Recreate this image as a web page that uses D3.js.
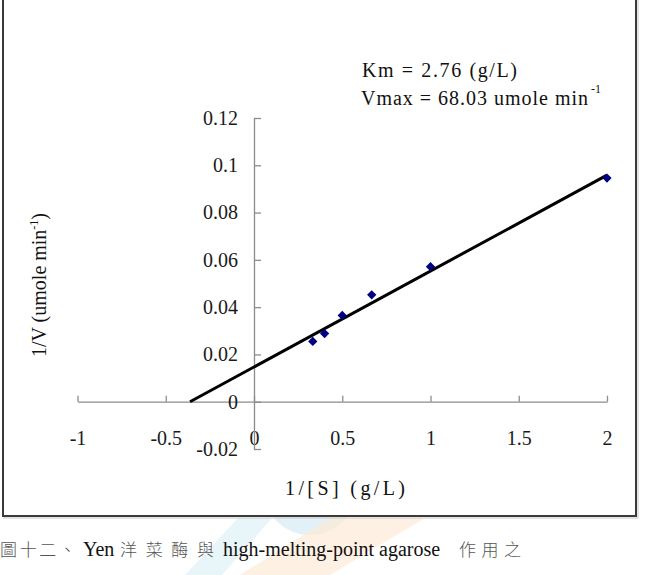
<!DOCTYPE html>
<html>
<head>
<meta charset="utf-8">
<script src="https://cdn.jsdelivr.net/npm/d3@7"></script>
<style>
  body { margin: 0; background: #fff; }
  svg { display: block; }
</style>
</head>
<body>
<div id="chart"></div>
<script>
"use strict";

// measured points (1/[S], 1/V)
var invS = [0.333, 0.4, 0.5, 0.667, 1, 2];
var invV = [0.0255, 0.0288, 0.0365, 0.0452, 0.0571, 0.0946];

// Lineweaver-Burk fit
var Km = 2.76;
var Vmax = 68.03;
var fitX = [-1 / Km, 2];

var xTicks = [-1, -0.5, 0, 0.5, 1, 1.5, 2];
var yTicks = [-0.02, 0, 0.02, 0.04, 0.06, 0.08, 0.1, 0.12];

var width = 645, height = 575;

var svg = d3.select("#chart")
	.append("svg")
	.attr("width", width)
	.attr("height", height);

// faint watermark behind the caption
var wm = svg.append("g").attr("class", "watermark");
wm.append("circle")
	.attr("cx", 310).attr("cy", 488).attr("r", 47)
	.style("fill", "#d9eef5").style("opacity", 0.8);
wm.append("path")
	.attr("d", "M 240 575 L 330 518 L 425 518 L 330 575 Z")
	.style("fill", "#fde9d6").style("opacity", 0.7);
wm.append("path")
	.attr("d", "M 185 575 L 238 518 L 272 518 L 222 575 Z")
	.style("fill", "#e2f2f8").style("opacity", 0.8);

// frame
svg.append("rect")
	.attr("x", 4).attr("y", -5)
	.attr("width", 634).attr("height", 523)
	.style("fill", "none")
	.style("stroke", "#c8c8c8")
	.style("stroke-width", 1);
svg.append("rect")
	.attr("x", 3).attr("y", -5)
	.attr("width", 633).attr("height", 521)
	.style("fill", "#fff")
	.style("stroke", "#3a3a3a")
	.style("stroke-width", 2);

var x = d3.scaleLinear().domain([-1, 2]).range([77.5, 607]);
var y = d3.scaleLinear().domain([-0.02, 0.12]).range([449, 118]);

var axisColor = "#8c8c8c";
var serif = "'Liberation Serif', 'Times New Roman', serif";
var plain = function (d) { return String(d); };

// x axis crosses at y = 0, ticks pointing up
var gx = svg.append("g")
	.attr("transform", "translate(0," + y(0) + ")")
	.call(d3.axisBottom(x)
		.tickValues(xTicks)
		.tickSizeInner(-6)
		.tickSizeOuter(0)
		.tickPadding(29)
		.tickFormat(plain));

// y axis crosses at x = 0, ticks pointing right
var gy = svg.append("g")
	.attr("transform", "translate(" + x(0) + ",0)")
	.call(d3.axisLeft(y)
		.tickValues(yTicks)
		.tickSizeInner(-7)
		.tickSizeOuter(0)
		.tickPadding(16)
		.tickFormat(plain));

[gx, gy].forEach(function (g) {
	g.select(".domain").style("stroke", axisColor).style("stroke-width", 1.3);
	g.selectAll(".tick line").style("stroke", axisColor).style("stroke-width", 1.3);
	g.selectAll(".tick text")
		.style("font-family", serif)
		.style("font-size", "20px")
		.style("fill", "#1a1a1a");
});

// fit line
var line = d3.line()
	.x(function (d) { return x(d); })
	.y(function (d) { return y((Km * d + 1) / Vmax); });

svg.append("path")
	.datum(fitX)
	.attr("d", line)
	.style("fill", "none")
	.style("stroke", "#000")
	.style("stroke-width", 3);

// data points
var pts = invS.map(function (d, i) { return [d, invV[i]]; });
svg.selectAll(".pt")
	.data(pts)
	.enter().append("path")
	.attr("class", "pt")
	.attr("transform", function (d) { return "translate(" + x(d[0]) + "," + y(d[1]) + ")"; })
	.attr("d", d3.symbol().type(d3.symbolDiamond2).size(55))
	.style("fill", "#000080");

// annotation
svg.append("text")
	.attr("x", 362).attr("y", 77)
	.attr("textLength", 155).attr("lengthAdjust", "spacing")
	.style("font-family", serif)
	.style("font-size", "20px")
	.style("fill", "#111")
	.text("Km = " + Km.toFixed(2) + " (g/L)");

var t2 = svg.append("text")
	.attr("x", 361).attr("y", 105)
	.style("font-family", serif)
	.style("font-size", "20px")
	.style("fill", "#111");
t2.append("tspan")
	.attr("textLength", 227).attr("lengthAdjust", "spacing")
	.text("Vmax = " + Vmax.toFixed(2) + " umole min");
t2.append("tspan")
	.attr("dx", 2).attr("dy", -12)
	.style("font-size", "12px")
	.text("-1");

// axis titles
svg.append("text")
	.attr("x", 345).attr("y", 495)
	.attr("text-anchor", "middle")
	.attr("textLength", 120).attr("lengthAdjust", "spacing")
	.style("font-family", serif)
	.style("font-size", "20px")
	.style("fill", "#111")
	.text("1/[S] (g/L)");

var yt = svg.append("text")
	.attr("transform", "translate(46,285) rotate(-90)")
	.attr("text-anchor", "middle")
	.style("font-family", serif)
	.style("font-size", "20px")
	.style("fill", "#111");
yt.append("tspan").text("1/V (umole min");
yt.append("tspan").attr("dy", -8).style("font-size", "12px").text("-1");
yt.append("tspan").attr("dy", 8).text(")");

// caption
var cjk = "'Noto Sans CJK TC', sans-serif";
var cap = svg.append("g")
	.style("font-size", "19px");
var capParts = [
	{ x: 0, t: "圖十二、", cjk: true, w: 76 },
	{ x: 83, t: "Yen", cjk: false },
	{ x: 120, t: "洋菜酶與", cjk: true, w: 94 },
	{ x: 223, t: "high-melting-point agarose", cjk: false },
	{ x: 459, t: "作用之", cjk: true, w: 62 }
];
cap.selectAll("text")
	.data(capParts)
	.enter().append("text")
	.attr("x", function (d) { return d.x; })
	.attr("y", 556)
	.attr("textLength", function (d) { return d.cjk ? d.w : null; })
	.attr("lengthAdjust", "spacing")
	.style("font-family", function (d) { return d.cjk ? cjk : serif; })
	.style("font-weight", function (d) { return d.cjk ? 300 : 400; })
	.style("font-size", function (d) { return d.cjk ? "17px" : "20px"; })
	.style("fill", function (d) { return d.cjk ? "#555" : "#111"; })
	.text(function (d) { return d.t; });
</script>
</body>
</html>
